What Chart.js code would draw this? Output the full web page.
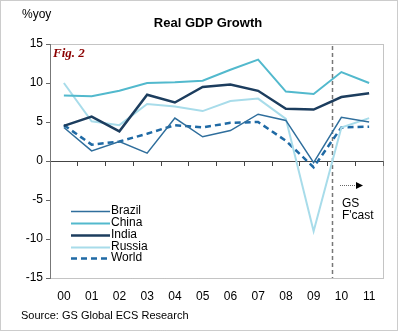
<!DOCTYPE html>
<html>
<head>
<meta charset="utf-8">
<script src="https://cdn.jsdelivr.net/npm/chart.js@4.4.1/dist/chart.umd.min.js"></script>
<style>
  html, body { margin: 0; padding: 0; background: #fff; }
  #wrap { width: 398px; height: 331px; position: relative; }
</style>
</head>
<body>
<div id="wrap"><canvas id="gdp"></canvas></div>
<script>
// Real GDP growth, %yoy
const years = ['00', '01', '02', '03', '04', '05', '06', '07', '08', '09', '10', '11'];
const brazil = [4.3, 1.3, 2.5, 1.0, 5.5, 3.1, 3.9, 6.0, 5.2, -0.2, 5.6, 5.0];
const china  = [8.4, 8.3, 9.0, 10.0, 10.1, 10.3, 11.7, 13.0, 8.9, 8.6, 11.4, 10.0];
const india  = [4.5, 5.7, 3.8, 8.5, 7.5, 9.5, 9.8, 9.0, 6.7, 6.6, 8.2, 8.7];
const russia = [10.0, 5.1, 4.6, 7.3, 7.0, 6.4, 7.7, 8.0, 5.4, -9.0, 4.3, 5.5];
const world  = [4.6, 2.1, 2.5, 3.5, 4.6, 4.3, 4.9, 5.0, 2.6, -0.8, 4.3, 4.4];
const yTicks = [15, 10, 5, 0, -5, -10, -15];
const forecastAt = 9.65; // category index where forecast starts

const font = 'Arial, "Liberation Sans", sans-serif';

// extra drawing: borders, titles, legend, forecast marker
const decor = {
  id: 'decor',
  beforeDraw(chart) {
    const c = chart.ctx;
    c.save();
    c.fillStyle = '#fff';
    c.fillRect(0, 0, chart.width, chart.height);
    c.restore();
  },
  beforeDatasetsDraw(chart) {
    const c = chart.ctx, a = chart.chartArea;
    const x = chart.scales.x;
    c.save();
    // plot border (dotted)
    c.strokeStyle = '#888';
    c.lineWidth = 1;
    c.setLineDash([1, 1]);
    c.strokeRect(a.left + 0.5, a.top + 0.5, a.right - a.left, a.bottom - a.top);
    // forecast divider
    const fx = Math.round(x.getPixelForValue(forecastAt)) + 0.5;
    c.strokeStyle = '#777';
    c.lineWidth = 1.5;
    c.setLineDash([4, 3]);
    c.beginPath();
    c.moveTo(fx, a.top + 2);
    c.lineTo(fx, a.bottom);
    c.stroke();
    c.restore();
  },
  afterDraw(chart) {
    const c = chart.ctx;
    c.save();
    // outer frame
    c.strokeStyle = '#999';
    c.setLineDash([1, 1]);
    c.lineWidth = 1;
    c.strokeRect(0.5, 0.5, chart.width - 1, chart.height - 1);
    c.setLineDash([]);

    c.fillStyle = '#000';
    c.textBaseline = 'middle';
    c.font = '12px ' + font;
    c.textAlign = 'left';
    c.fillText('%yoy', 22, 15);
    c.font = 'bold 13px ' + font;
    c.textAlign = 'center';
    c.fillText('Real GDP Growth', 208, 23);
    c.font = '11px ' + font;
    c.textAlign = 'left';
    c.fillText('Source: GS Global ECS Research', 21, 316);

    // Fig. 2
    c.fillStyle = '#8b0000';
    c.font = 'italic bold 13px "Liberation Serif", "DejaVu Serif", serif';
    c.fillText('Fig. 2', 53, 54);

    // legend
    c.font = '12px ' + font;
    const rowsY = [211, 223, 235, 247, 258];
    chart.data.datasets.forEach((ds, i) => {
      const y = rowsY[i] + 0.5;
      c.strokeStyle = ds.borderColor;
      c.lineWidth = ds.borderWidth;
      c.setLineDash(ds.borderDash || []);
      c.beginPath();
      c.moveTo(71, y);
      c.lineTo(110, y);
      c.stroke();
      c.setLineDash([]);
      c.fillStyle = '#000';
      c.fillText(ds.label, 111, rowsY[i]);
    });

    // forecast arrow and label
    c.strokeStyle = '#666';
    c.lineWidth = 1;
    c.setLineDash([1, 1]);
    c.beginPath();
    c.moveTo(340, 185.5);
    c.lineTo(356, 185.5);
    c.stroke();
    c.setLineDash([]);
    c.fillStyle = '#000';
    c.beginPath();
    c.moveTo(356, 182);
    c.lineTo(363, 185.5);
    c.lineTo(356, 189);
    c.closePath();
    c.fill();
    c.font = '12px ' + font;
    c.fillText('GS', 342, 204);
    c.fillText("F'cast", 342, 216);
    c.restore();
  }
};

const ctx = document.getElementById('gdp').getContext('2d');
const gdpChart = new Chart(ctx, {
  type: 'line',
  data: {
    labels: years,
    datasets: [
      { label: 'Brazil', data: brazil, borderColor: '#2f6e9c', borderWidth: 1.5 },
      { label: 'China', data: china, borderColor: '#52b9cd', borderWidth: 2 },
      { label: 'India', data: india, borderColor: '#1c3d5e', borderWidth: 2.5 },
      { label: 'Russia', data: russia, borderColor: '#a8dcea', borderWidth: 2 },
      { label: 'World', data: world, borderColor: '#1f6aa5', borderWidth: 2.5, borderDash: [6, 4] }
    ]
  },
  plugins: [decor],
  options: {
    responsive: true,
    maintainAspectRatio: false,
    animation: false,
    events: [],
    elements: {
      point: { radius: 0 },
      line: { tension: 0, fill: false }
    },
    layout: { padding: { top: 44, right: 15, left: 0, bottom: 0 } },
    plugins: {
      legend: { display: false },
      title: { display: false },
      tooltip: { enabled: false }
    },
    scales: {
      x: {
        type: 'category',
        offset: true,
        position: 'bottom',
        border: { display: false },
        grid: { display: false, offset: true },
        ticks: { color: '#000', font: { family: font, size: 12 }, padding: 3, maxRotation: 0 },
        afterFit(s) { s.height = 53; }
      },
      x0: {
        type: 'category',
        labels: years,
        offset: true,
        position: { y: 0 },
        border: { display: true, color: '#444', width: 1 },
        grid: { display: true, offset: true, drawOnChartArea: false, drawTicks: true, tickLength: 4, color: '#444' },
        ticks: { display: false }
      },
      y: {
        min: -15,
        max: 15,
        border: { display: true, color: '#666', width: 1 },
        grid: { display: true, drawOnChartArea: false, drawTicks: true, tickLength: 4, color: '#666' },
        ticks: {
          stepSize: 5,
          color: '#000',
          padding: 3,
          font: { family: font, size: 12 },
          callback: v => yTicks.includes(v) ? v : ''
        },
        afterFit(s) { s.width = 50; }
      }
    }
  }
});
</script>
</body>
</html>
